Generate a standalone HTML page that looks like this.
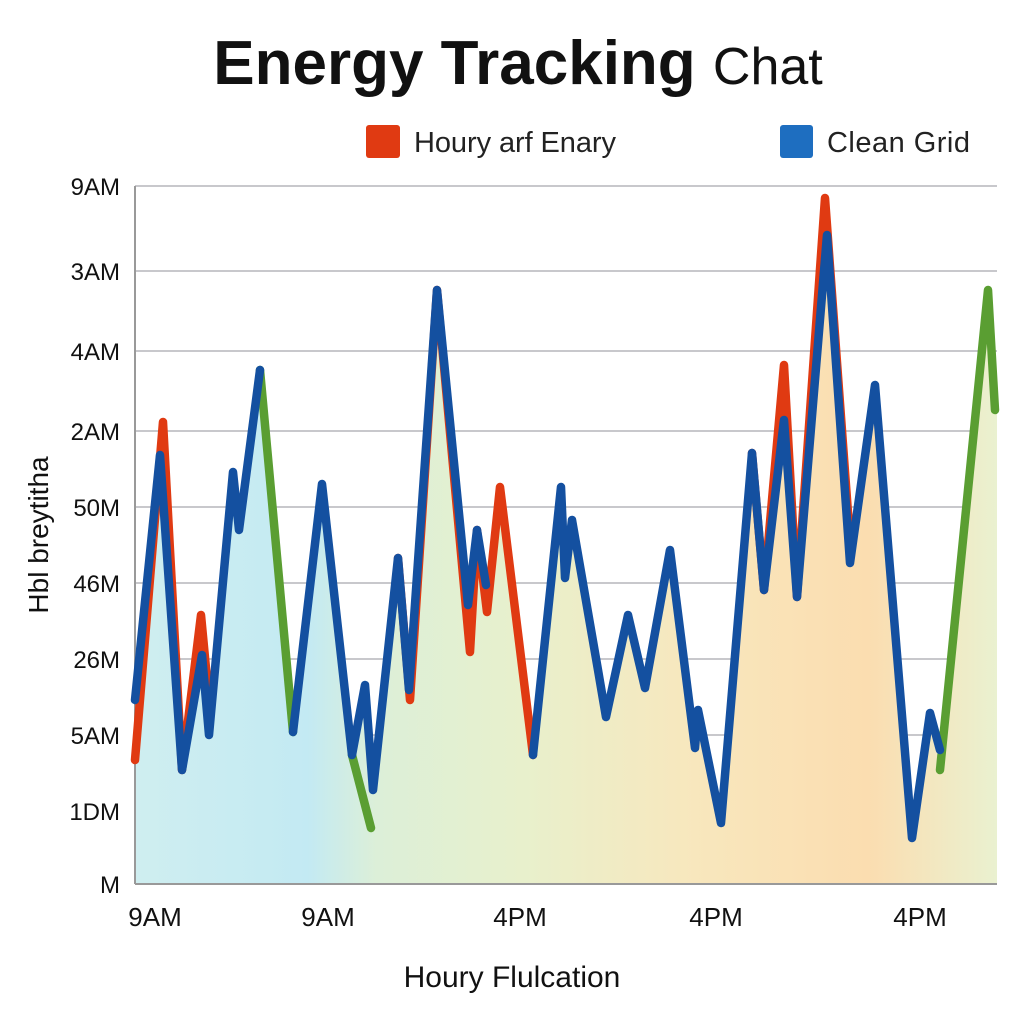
<!DOCTYPE html>
<html><head><meta charset="utf-8"><style>
body{margin:0;background:#fff;}
svg{display:block;font-family:"Liberation Sans",sans-serif;}
</style></head><body>
<svg width="1024" height="1024" viewBox="0 0 1024 1024">
<defs>
<linearGradient id="g" x1="135" y1="0" x2="997" y2="0" gradientUnits="userSpaceOnUse">
<stop offset="0" stop-color="#cfeef0"/>
<stop offset="0.2" stop-color="#c3eaf3"/>
<stop offset="0.28" stop-color="#dcefd8"/>
<stop offset="0.45" stop-color="#e8f0cc"/>
<stop offset="0.65" stop-color="#f8e7bd"/>
<stop offset="0.85" stop-color="#fbddb0"/>
<stop offset="1" stop-color="#eaf1d0"/>
</linearGradient>
</defs>
<text x="518" y="84" text-anchor="middle" font-size="62" fill="#111"><tspan font-weight="bold">Energy Tracking</tspan> <tspan font-size="52">Chat</tspan></text>
<rect x="366" y="125" width="34" height="33" rx="3" fill="#e03a12"/>
<text x="414" y="152" font-size="29" fill="#222" textLength="202">Houry arf Enary</text>
<rect x="780" y="125" width="33" height="33" rx="3" fill="#1e6ec0"/>
<text x="827" y="152" font-size="29" fill="#222" textLength="143">Clean Grid</text>
<g stroke="#c8c8cc" stroke-width="2">
<line x1="135" y1="186" x2="997" y2="186"/><line x1="135" y1="271" x2="997" y2="271"/>
<line x1="135" y1="351" x2="997" y2="351"/><line x1="135" y1="431" x2="997" y2="431"/>
<line x1="135" y1="507" x2="997" y2="507"/><line x1="135" y1="583" x2="997" y2="583"/>
<line x1="135" y1="659" x2="997" y2="659"/><line x1="135" y1="735" x2="997" y2="735"/>
<line x1="135" y1="811" x2="997" y2="811"/>
</g>
<polygon fill="url(#g)" points="135,884 135,700 160,455 182,770 202,655 209,735 233,472 239,530 260,370 293,732 322,484 352,755 365,685 373,790 398,558 409,690 437,290 468,605 477,530 486,585 500,487 533,755 561,487 565,578 572,520 598,670 606,717 628,615 645,688 670,550 695,748 698,710 721,823 752,453 764,590 784,365 797,597 825,198 850,563 875,385 912,838 930,713 940,770 988,290 995,410 997,410 997,884"/>
<line x1="135" y1="186" x2="135" y2="884" stroke="#999" stroke-width="2"/>
<line x1="135" y1="884" x2="997" y2="884" stroke="#999" stroke-width="2"/>
<g fill="none" stroke-linejoin="round" stroke-linecap="round" stroke-width="8.5">
<polyline stroke="#5a9e32" points="260,370 293,732"/>
<polyline stroke="#5a9e32" points="352,755 371,828"/>
<polyline stroke="#5a9e32" points="940,770 988,290 995,410"/>
<polyline stroke="#e03a12" points="135,760 163,422 182,770 201,615 209,700"/>
<polyline stroke="#e03a12" points="398,558 410,700 437,290 470,652 477,530 487,612 500,487 533,755"/>
<polyline stroke="#e03a12" points="752,453 764,590 784,365 797,597 825,198 850,540"/>
<polyline stroke="#1450a0" points="135,700 160,455 182,770 202,655 209,735 233,472 239,530 260,370"/>
<polyline stroke="#1450a0" points="293,732 322,484 352,755 365,685 373,790 398,558 409,690 437,290 468,605 477,530 486,585"/>
<polyline stroke="#1450a0" points="533,755 561,487 565,578 572,520 598,670 606,717 628,615 645,688 670,550 695,748 698,710 721,823 752,453 764,590 784,420 797,597 827,235 850,563 875,385 912,838 930,713 940,750"/>
</g>
<g font-size="24" fill="#111" text-anchor="end">
<text x="120" y="195">9AM</text><text x="120" y="280">3AM</text><text x="120" y="360">4AM</text>
<text x="120" y="440">2AM</text><text x="120" y="516">50M</text><text x="120" y="592">46M</text>
<text x="120" y="668">26M</text><text x="120" y="744">5AM</text><text x="120" y="820">1DM</text>
<text x="120" y="893">M</text>
</g>
<g font-size="26" fill="#111" text-anchor="middle">
<text x="155" y="926">9AM</text><text x="328" y="926">9AM</text><text x="520" y="926">4PM</text>
<text x="716" y="926">4PM</text><text x="920" y="926">4PM</text>
</g>
<text x="512" y="987" text-anchor="middle" font-size="30" fill="#111">Houry Flulcation</text>
<text transform="translate(48,535) rotate(-90)" text-anchor="middle" font-size="28" fill="#111">Hbl breytitha</text>
</svg>
</body></html>
